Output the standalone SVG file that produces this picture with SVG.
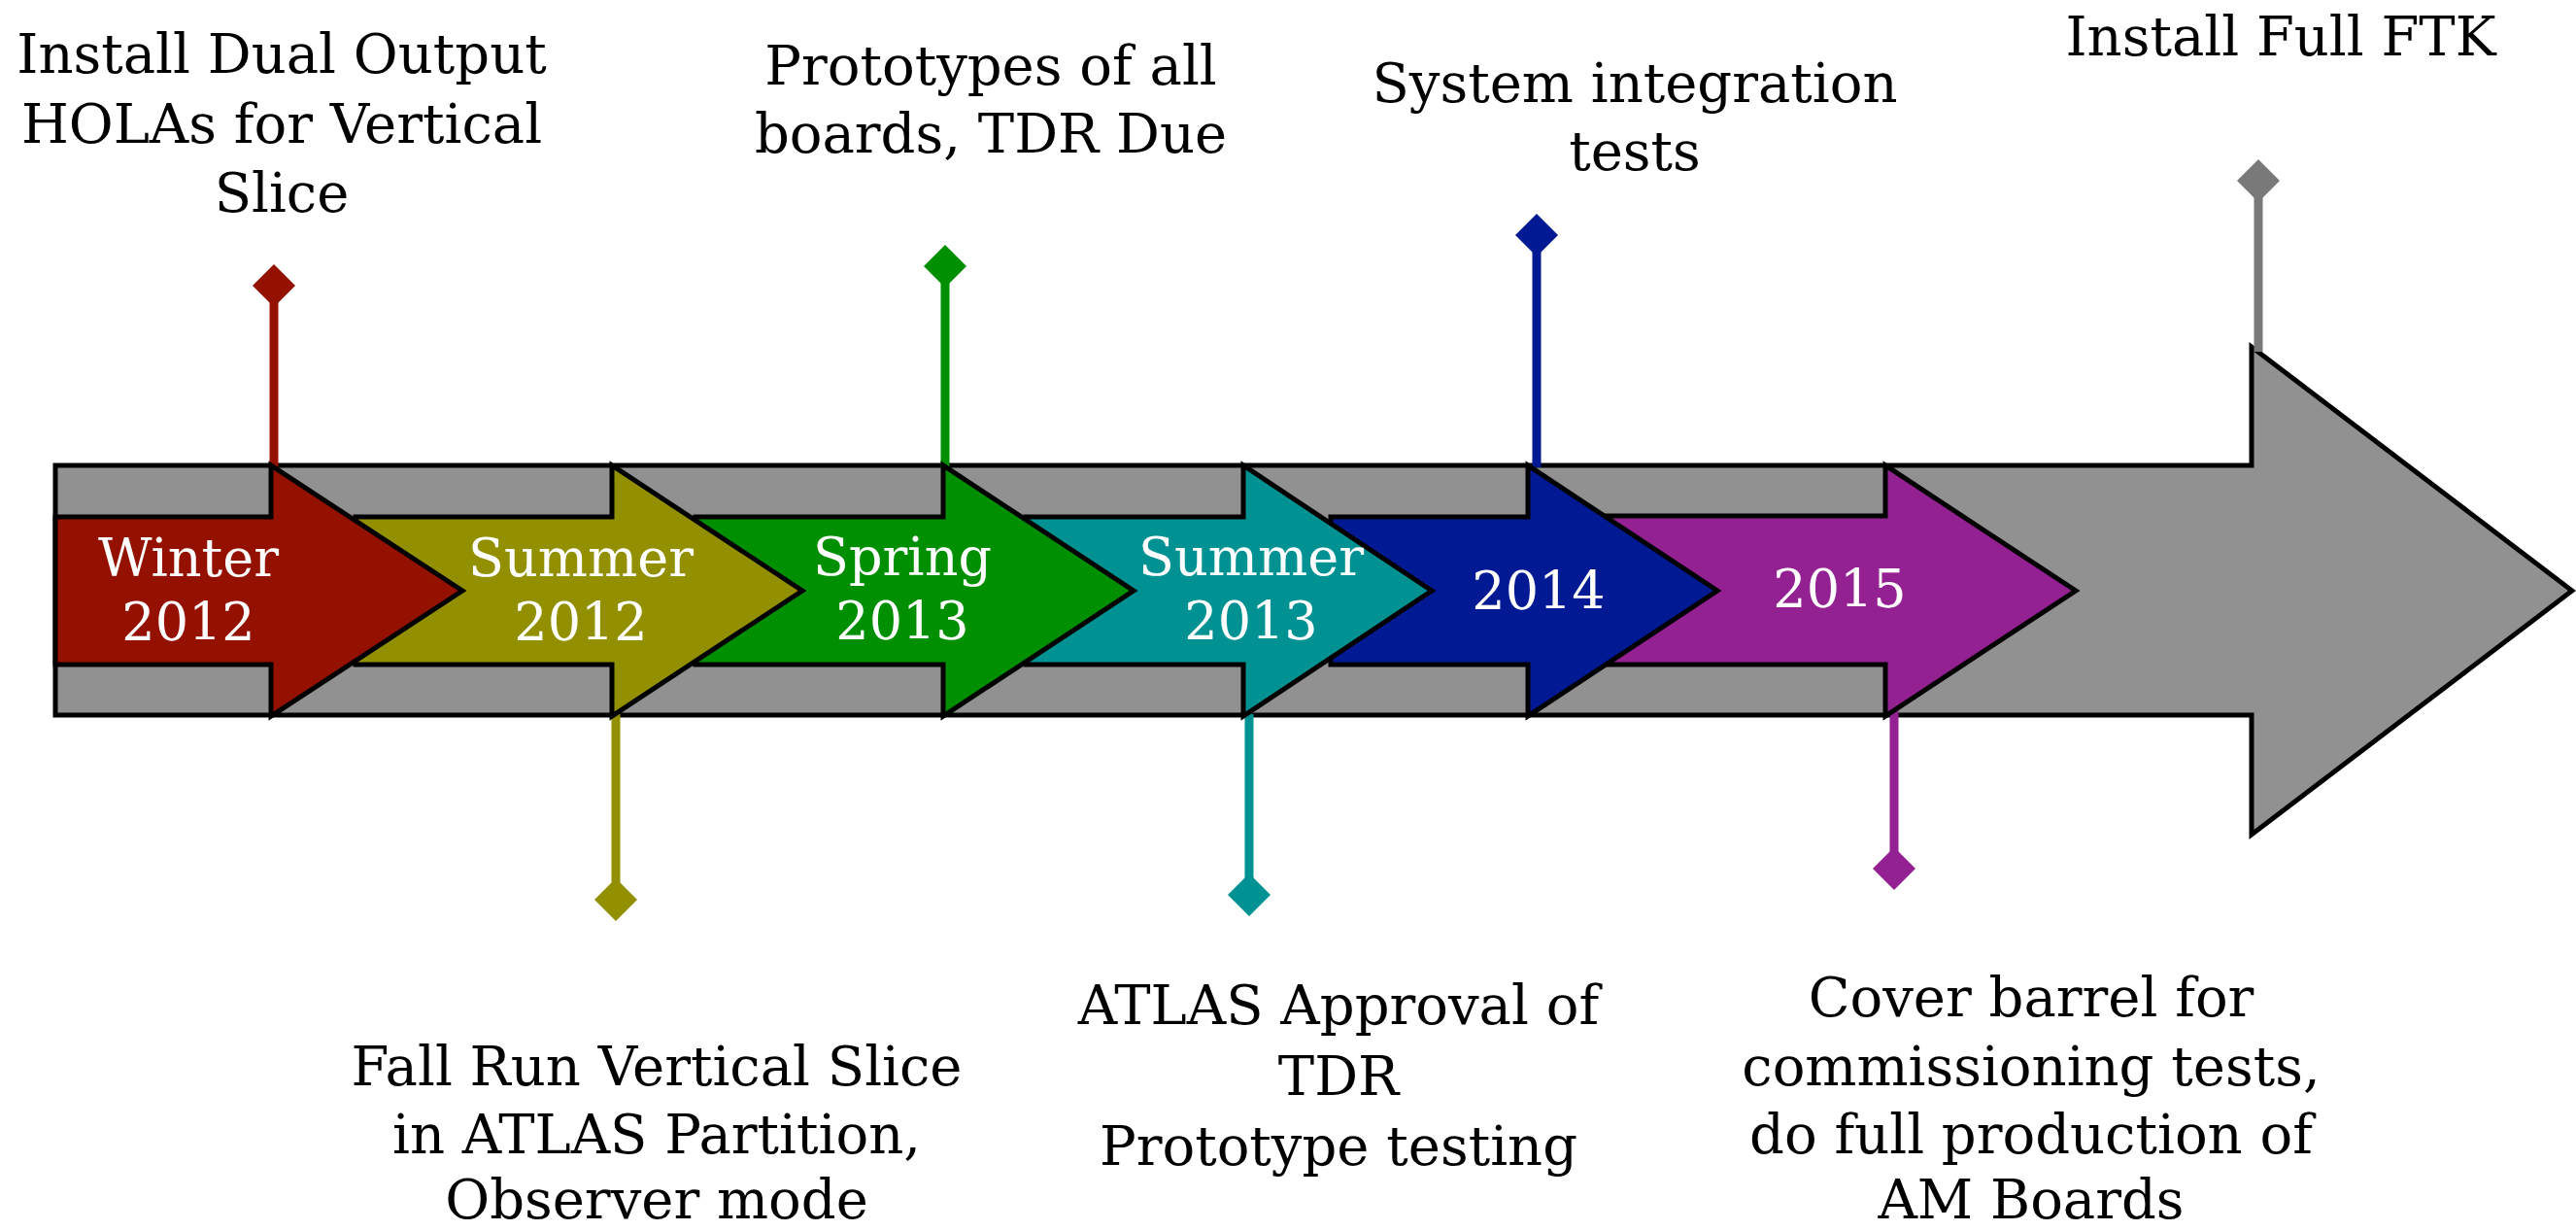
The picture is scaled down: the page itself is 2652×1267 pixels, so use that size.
<svg xmlns="http://www.w3.org/2000/svg" width="2652" height="1267" viewBox="0 0 2652 1267">
<style>
.arr{stroke:#000;stroke-width:5;stroke-linejoin:miter;stroke-miterlimit:10}
.lbl{font-family:"DejaVu Serif","Liberation Serif",serif;font-size:56px;fill:#000;text-anchor:middle}
.yr{font-family:"DejaVu Serif","Liberation Serif",serif;font-size:54px;fill:#fff;text-anchor:middle}
.stem{stroke-width:9;fill:none}
</style>
<defs>
<path id="dm" d="M0,-22 L22,0 L0,22 L-22,0 Z"/>
</defs>
<rect width="2652" height="1267" fill="#fff"/>
<g id="main-arrow">
<path class="arr" fill="#919191" d="M57,479 H2318 V357 L2648,608 L2318,859 V736 H57 Z"/>
</g>
<g id="connectors">
<g id="stem-red"><line class="stem" stroke="#941100" x1="282" y1="300" x2="282" y2="481"/><use href="#dm" x="282" y="294" fill="#941100"/></g>
<g id="stem-olive"><line class="stem" stroke="#929000" x1="634" y1="735" x2="634" y2="920"/><use href="#dm" x="634" y="926" fill="#929000"/></g>
<g id="stem-green"><line class="stem" stroke="#008F00" x1="973" y1="280" x2="973" y2="481"/><use href="#dm" x="973" y="274" fill="#008F00"/></g>
<g id="stem-teal"><line class="stem" stroke="#009193" x1="1286" y1="735" x2="1286" y2="915"/><use href="#dm" x="1286" y="921" fill="#009193"/></g>
<g id="stem-blue"><line class="stem" stroke="#011993" x1="1582" y1="248" x2="1582" y2="481"/><use href="#dm" x="1582" y="242" fill="#011993"/></g>
<g id="stem-purple"><line class="stem" stroke="#942192" x1="1950" y1="722" x2="1950" y2="888"/><use href="#dm" x="1950" y="894" fill="#942192"/></g>
<g id="stem-gray"><line class="stem" stroke="#797979" x1="2325" y1="192" x2="2325" y2="362"/><use href="#dm" x="2325" y="186" fill="#797979"/></g>
</g>
<g id="arrow-2015">
<path class="arr" fill="#942192" d="M1654,531 H1941 V479 L2137,608 L1941,737 V684 H1654 Z"/>
<text class="yr" x="1894" y="625">2015</text>
</g>
<g id="arrow-2014">
<path class="arr" fill="#011993" d="M1370,532 H1573 V479 L1768,608 L1573,737 V684 H1370 Z"/>
<text class="yr" x="1584" y="627">2014</text>
</g>
<g id="arrow-summer2013">
<path class="arr" fill="#009193" d="M1056,532 H1280 V479 L1474,608 L1280,737 V684 H1056 Z"/>
<text class="yr" x="1288" y="592">Summer</text>
<text class="yr" x="1288" y="658">2013</text>
</g>
<g id="arrow-spring2013">
<path class="arr" fill="#008F00" d="M716,532 H971 V479 L1167,608 L971,737 V684 H716 Z"/>
<text class="yr" x="929" y="592">Spring</text>
<text class="yr" x="929" y="658">2013</text>
</g>
<g id="arrow-summer2012">
<path class="arr" fill="#929000" d="M366,532 H630 V479 L826,608 L630,737 V684 H366 Z"/>
<text class="yr" x="598" y="593">Summer</text>
<text class="yr" x="598" y="659">2012</text>
</g>
<g id="arrow-winter2012">
<path class="arr" fill="#941100" d="M57,532 H279 V479 L476,608 L279,737 V684 H57 Z"/>
<text class="yr" x="194" y="593">Winter</text>
<text class="yr" x="194" y="659">2012</text>
</g>
<g id="label-hola">
<text class="lbl" x="290" y="75">Install Dual Output</text>
<text class="lbl" x="290" y="147">HOLAs for Vertical</text>
<text class="lbl" x="290" y="218">Slice</text>
</g>
<g id="label-prototypes">
<text class="lbl" x="1020" y="87">Prototypes of all</text>
<text class="lbl" x="1020" y="157">boards, TDR Due</text>
</g>
<g id="label-system">
<text class="lbl" x="1683" y="105">System integration</text>
<text class="lbl" x="1683" y="175">tests</text>
</g>
<g id="label-ftk">
<text class="lbl" x="2348" y="57">Install Full FTK</text>
</g>
<g id="label-fallrun">
<text class="lbl" x="676" y="1117">Fall Run Vertical Slice</text>
<text class="lbl" x="676" y="1187">in ATLAS Partition,</text>
<text class="lbl" x="676" y="1254">Observer mode</text>
</g>
<g id="label-approval">
<text class="lbl" x="1378" y="1054">ATLAS Approval of</text>
<text class="lbl" x="1378" y="1127">TDR</text>
<text class="lbl" x="1378" y="1199">Prototype testing</text>
</g>
<g id="label-cover">
<text class="lbl" x="2091" y="1046">Cover barrel for</text>
<text class="lbl" x="2091" y="1117">commissioning tests,</text>
<text class="lbl" x="2091" y="1187">do full production of</text>
<text class="lbl" x="2091" y="1254">AM Boards</text>
</g>
</svg>
